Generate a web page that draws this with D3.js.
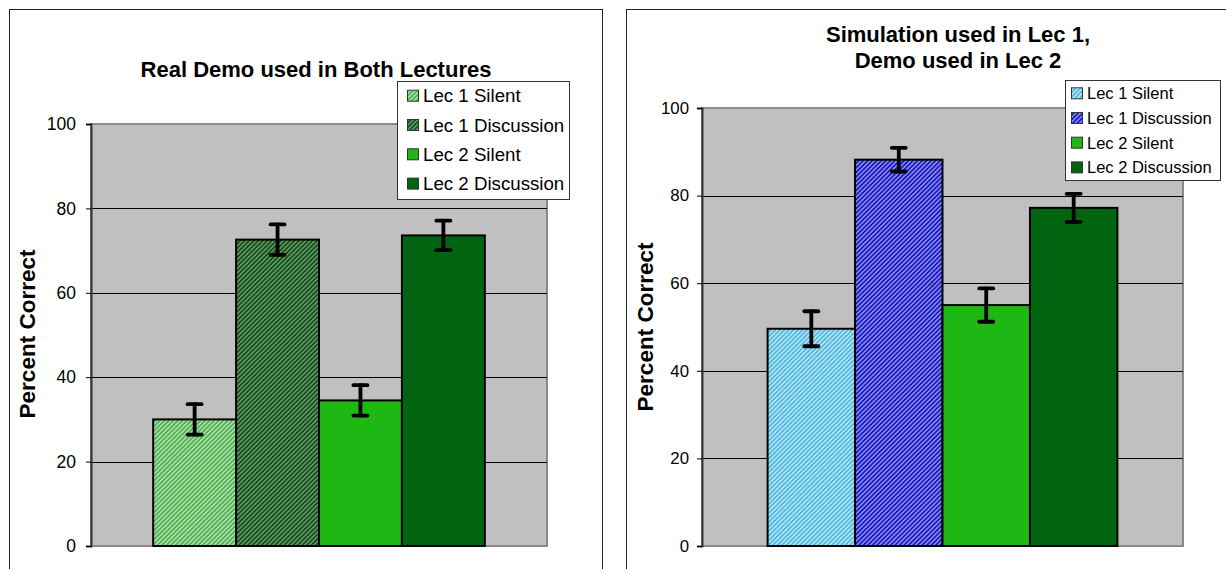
<!DOCTYPE html>
<html>
<head>
<meta charset="utf-8">
<script src="https://cdn.jsdelivr.net/npm/d3@7"></script>
<style>
  html, body { margin: 0; padding: 0; background: #fff; }
  svg { display: block; font-family: Arial, "Liberation Sans", sans-serif; }
</style>
</head>
<body>
<svg id="chart" width="1226" height="569"></svg>
<script>
// ---------- data ----------
const seriesNames = ["Lec 1 Silent", "Lec 1 Discussion", "Lec 2 Silent", "Lec 2 Discussion"];
const leftTitle = ["Real Demo used in Both Lectures"];
const leftValues = [30.0, 72.6, 34.5, 73.6];
const leftErrors = [3.6, 3.6, 3.6, 3.5];
const rightTitle = ["Simulation used in Lec 1,", "Demo used in Lec 2"];
const rightValues = [49.6, 88.2, 55.0, 77.2];
const rightErrors = [4.0, 2.7, 3.8, 3.2];
const yTicks = [0, 20, 40, 60, 80, 100];
const yLabel = "Percent Correct";

// ---------- styling ----------
const svg = d3.select("#chart");
const defs = svg.append("defs");
function stripePattern(id, base, stripe) {
  const p = defs.append("pattern").attr("id", id).attr("patternUnits", "userSpaceOnUse")
    .attr("width", 3.2).attr("height", 3.2).attr("patternTransform", "rotate(45)");
  p.append("rect").attr("width", 3.2).attr("height", 3.2).attr("fill", base);
  p.append("rect").attr("width", 1.6).attr("height", 3.2).attr("fill", stripe);
}
stripePattern("lgLight", "#a8dea8", "#50b050");
stripePattern("lgDark", "#5e985e", "#134a1e");
stripePattern("rbLight", "#b0e4f4", "#50b8de");
stripePattern("rbDark", "#8484ff", "#1a1ab0");

const panels = [
  { title: leftTitle, values: leftValues, errors: leftErrors,
    fills: ["url(#lgLight)", "url(#lgDark)", "#1fb714", "#006411"],
    frame: { x: 9, y: 9, w: 593, h: 600 },
    plot: { x0: 91, x1: 547, y0: 124, y1: 546 },
    titleX: 316, titleY: [77], titleSize: 22,
    tickSize: 17.5, tickGap: 15,
    axisTitle: { x: 27, y: 334 },
    legend: { x: 397, y: 81, w: 172, h: 118, first: 14.7, step: 29.3, font: 18.7, sx: 10, tx: 26 } },
  { title: rightTitle, values: rightValues, errors: rightErrors,
    fills: ["url(#rbLight)", "url(#rbDark)", "#1fb714", "#006411"],
    frame: { x: 626, y: 9, w: 640, h: 600 },
    plot: { x0: 702, x1: 1183, y0: 108, y1: 546 },
    titleX: 958, titleY: [42, 68], titleSize: 22,
    tickSize: 16.8, tickGap: 13,
    axisTitle: { x: 645, y: 327 },
    legend: { x: 1065, y: 80, w: 155, h: 100, first: 13.3, step: 24.7, font: 16.5, sx: 6, tx: 22 } }
];

panels.forEach((P, pi) => {
  const g = svg.append("g");
  // frame
  g.append("rect").attr("x", P.frame.x + 0.5).attr("y", P.frame.y + 0.5)
    .attr("width", P.frame.w).attr("height", P.frame.h)
    .attr("fill", "#fff").attr("stroke", "#222").attr("stroke-width", 1);

  const x = d3.scaleBand().domain(seriesNames).range([P.plot.x0, P.plot.x1])
    .paddingInner(0).paddingOuter(0.75);
  const y = d3.scaleLinear().domain([0, 100]).range([P.plot.y1, P.plot.y0]);

  // plot area
  g.append("rect").attr("x", P.plot.x0).attr("y", P.plot.y0)
    .attr("width", P.plot.x1 - P.plot.x0).attr("height", P.plot.y1 - P.plot.y0)
    .attr("fill", "#c0c0c0").attr("stroke", "#8a8a8a").attr("stroke-width", 2);

  // gridlines
  g.selectAll(".grid").data(yTicks.filter(t => t > 0 && t < 100)).enter().append("line")
    .attr("x1", P.plot.x0).attr("x2", P.plot.x1)
    .attr("y1", d => Math.round(y(d)) + 0.5).attr("y2", d => Math.round(y(d)) + 0.5)
    .attr("stroke", "#000").attr("stroke-width", 1);

  // y axis
  const axis = d3.axisLeft(y).tickValues(yTicks).tickSize(5).tickPadding(P.tickGap - 5)
    .tickFormat(d3.format("d"));
  const ag = g.append("g").attr("transform", `translate(${P.plot.x0},0)`).call(axis);
  ag.select(".domain").attr("stroke", "#333").attr("stroke-width", 2);
  ag.selectAll(".tick line").attr("stroke", "#000").attr("stroke-width", 1);
  ag.selectAll(".tick text").attr("font-size", P.tickSize).attr("fill", "#000")
    .attr("font-family", "Arial, 'Liberation Sans', sans-serif");

  // bars
  g.selectAll(".bar").data(P.values).enter().append("rect")
    .attr("x", (d, i) => x(seriesNames[i]))
    .attr("y", d => y(d))
    .attr("width", x.bandwidth())
    .attr("height", d => y(0) - y(d))
    .attr("fill", (d, i) => P.fills[i])
    .attr("stroke", "#000").attr("stroke-width", 2);

  // error bars
  const eg = g.append("g").attr("stroke", "#000").attr("stroke-width", 3.8).attr("stroke-linecap", "round");
  P.values.forEach((v, i) => {
    const cx = x(seriesNames[i]) + x.bandwidth() / 2;
    const hi = y(v + P.errors[i]), lo = y(v - P.errors[i]);
    eg.append("line").attr("x1", cx).attr("x2", cx).attr("y1", hi).attr("y2", lo);
    eg.append("line").attr("x1", cx - 7).attr("x2", cx + 7).attr("y1", hi).attr("y2", hi);
    eg.append("line").attr("x1", cx - 7).attr("x2", cx + 7).attr("y1", lo).attr("y2", lo);
  });

  // title
  P.title.forEach((t, k) => {
    g.append("text").attr("x", P.titleX).attr("y", P.titleY[k])
      .attr("text-anchor", "middle").attr("font-weight", "bold")
      .attr("font-size", P.titleSize).attr("fill", "#000").text(t);
  });

  // y axis title
  g.append("text")
    .attr("transform", `translate(${P.axisTitle.x},${P.axisTitle.y}) rotate(-90)`)
    .attr("text-anchor", "middle").attr("dominant-baseline", "central")
    .attr("font-weight", "bold").attr("font-size", 22.5).attr("fill", "#000")
    .text(yLabel);

  // legend
  const L = P.legend;
  const lg = g.append("g");
  lg.append("rect").attr("x", L.x + 0.5).attr("y", L.y + 0.5).attr("width", L.w).attr("height", L.h)
    .attr("fill", "#fff").attr("stroke", "#333").attr("stroke-width", 1);
  seriesNames.forEach((s, i) => {
    const cy = L.y + L.first + i * L.step;
    lg.append("rect").attr("x", L.x + L.sx + 0.5).attr("y", cy - 5.5).attr("width", 11).attr("height", 11)
      .attr("fill", P.fills[i]).attr("stroke", "#333").attr("stroke-width", 1);
    lg.append("text").attr("x", L.x + L.tx).attr("y", cy).attr("dominant-baseline", "central")
      .attr("font-size", L.font).attr("fill", "#000").text(s);
  });
});

// small stray mark visible in the right panel of the original
svg.append("text").attr("x", 932).attr("y", 287).attr("text-anchor", "middle")
  .attr("font-size", 9).attr("fill", "#333").text("c");
</script>
</body>
</html>
